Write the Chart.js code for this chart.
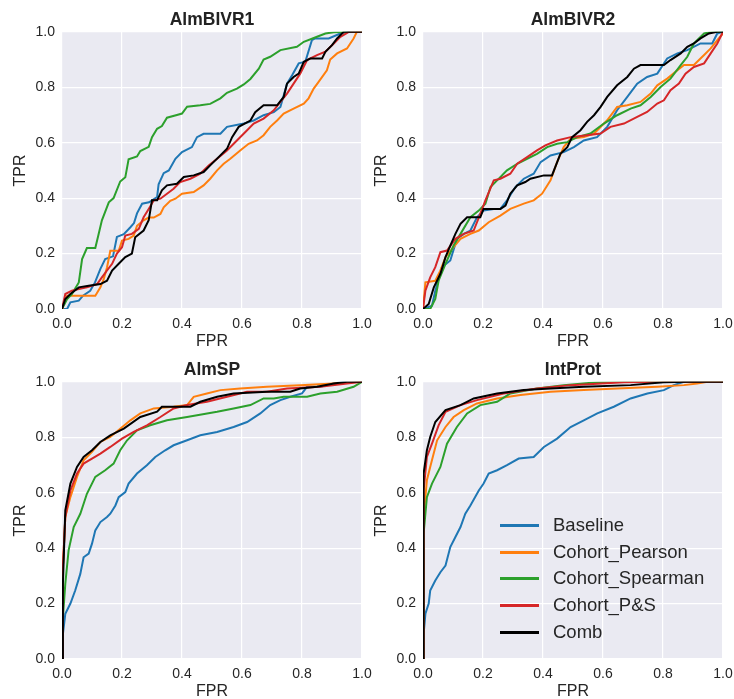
<!DOCTYPE html>
<html>
<head>
<meta charset="utf-8">
<script src="https://cdn.jsdelivr.net/npm/chart.js@4.4.1/dist/chart.umd.min.js"></script>
<style>
  html, body { margin: 0; padding: 0; background: #fff; }
  body { width: 734px; height: 699px; position: relative; overflow: hidden; }
  canvas { position: absolute; }
  #legend { position: absolute; left: 500px; top: 0; font-family: 'Liberation Sans', Arial, sans-serif; font-size: 18.5px; color: #262626; }
  #legend .row { position: absolute; left: 0; height: 26px; line-height: 26px; white-space: nowrap; }
  #legend .swatch { position: absolute; left: 0; top: 12px; width: 39px; height: 3px; }
  #legend .lbl { position: absolute; left: 53px; top: 0; }
</style>
</head>
<body>
<canvas id="c1" width="380" height="355" style="left:0;top:0"></canvas>
<canvas id="c2" width="380" height="355" style="left:361px;top:0"></canvas>
<canvas id="c3" width="380" height="355" style="left:0;top:350px"></canvas>
<canvas id="c4" width="380" height="355" style="left:361px;top:350px"></canvas>
<div id="legend"></div>
<script>
// series names + colours (tab10 + black)
const seriesNames = ['Baseline', 'Cohort_Pearson', 'Cohort_Spearman', 'Cohort_P&S', 'Comb'];
const seriesColors = ['#1f77b4', '#ff7f0e', '#2ca02c', '#d62728', '#000000'];
const panelTitles = ['AlmBIVR1', 'AlmBIVR2', 'AlmSP', 'IntProt'];
const tickValues = [0, 0.2, 0.4, 0.6, 0.8, 1.0];

// ROC points [FPR, TPR]
// AlmBIVR1
const bivr1Base = [[0,0],[0.017,0],[0.028,0.024],[0.056,0.03],[0.07,0.048],[0.094,0.066],[0.11,0.096],[0.128,0.145],[0.144,0.18],[0.17,0.19],[0.183,0.26],[0.206,0.27],[0.228,0.295],[0.24,0.31],[0.25,0.345],[0.267,0.38],[0.29,0.385],[0.317,0.404],[0.322,0.45],[0.339,0.49],[0.356,0.5],[0.378,0.542],[0.4,0.566],[0.433,0.584],[0.45,0.62],[0.472,0.632],[0.528,0.632],[0.55,0.657],[0.606,0.669],[0.639,0.68],[0.672,0.699],[0.706,0.71],[0.728,0.729],[0.75,0.813],[0.767,0.843],[0.789,0.886],[0.811,0.892],[0.833,0.97],[0.844,0.976],[0.889,0.976],[0.928,0.994],[0.95,1],[1,1]];
const bivr1Pear = [[0,0],[0.003,0.01],[0.017,0.048],[0.111,0.048],[0.128,0.078],[0.139,0.108],[0.15,0.15],[0.161,0.21],[0.189,0.21],[0.2,0.247],[0.222,0.253],[0.239,0.265],[0.25,0.3],[0.272,0.32],[0.289,0.33],[0.306,0.33],[0.328,0.343],[0.339,0.367],[0.361,0.39],[0.378,0.398],[0.4,0.416],[0.439,0.422],[0.472,0.446],[0.494,0.47],[0.517,0.5],[0.539,0.524],[0.561,0.542],[0.594,0.572],[0.622,0.596],[0.65,0.608],[0.672,0.627],[0.694,0.657],[0.717,0.68],[0.739,0.705],[0.772,0.723],[0.806,0.741],[0.822,0.76],[0.839,0.795],[0.856,0.82],[0.883,0.861],[0.894,0.9],[0.917,0.922],[0.95,0.94],[0.972,0.976],[0.983,1],[1,1]];
const bivr1Spear = [[0,0],[0.017,0.036],[0.033,0.054],[0.056,0.096],[0.067,0.18],[0.083,0.22],[0.111,0.22],[0.122,0.27],[0.133,0.32],[0.156,0.385],[0.172,0.4],[0.194,0.46],[0.211,0.475],[0.222,0.54],[0.25,0.55],[0.261,0.57],[0.289,0.585],[0.3,0.62],[0.317,0.65],[0.333,0.66],[0.35,0.69],[0.383,0.7],[0.4,0.705],[0.417,0.73],[0.461,0.735],[0.494,0.74],[0.528,0.76],[0.55,0.78],[0.583,0.795],[0.606,0.81],[0.628,0.83],[0.656,0.867],[0.672,0.9],[0.694,0.91],[0.728,0.934],[0.783,0.946],[0.806,0.964],[0.85,0.982],[0.878,0.994],[0.906,0.998],[0.95,1],[1,1]];
const bivr1PS = [[0,0],[0.011,0.054],[0.033,0.066],[0.056,0.072],[0.083,0.078],[0.117,0.09],[0.133,0.114],[0.15,0.139],[0.167,0.163],[0.183,0.2],[0.2,0.223],[0.211,0.265],[0.233,0.271],[0.256,0.289],[0.272,0.331],[0.289,0.361],[0.306,0.392],[0.328,0.398],[0.35,0.416],[0.372,0.434],[0.394,0.458],[0.428,0.47],[0.461,0.488],[0.489,0.518],[0.517,0.542],[0.55,0.572],[0.583,0.608],[0.617,0.645],[0.639,0.669],[0.672,0.687],[0.706,0.717],[0.728,0.747],[0.75,0.777],[0.772,0.813],[0.794,0.849],[0.817,0.898],[0.85,0.916],[0.878,0.928],[0.906,0.958],[0.928,0.982],[0.956,1],[1,1]];
const bivr1Comb = [[0,0],[0.011,0.036],[0.028,0.054],[0.056,0.078],[0.089,0.084],[0.128,0.09],[0.15,0.102],[0.167,0.139],[0.189,0.163],[0.211,0.187],[0.233,0.2],[0.244,0.259],[0.272,0.283],[0.289,0.32],[0.3,0.392],[0.317,0.392],[0.333,0.428],[0.35,0.446],[0.383,0.452],[0.406,0.476],[0.439,0.482],[0.472,0.494],[0.494,0.518],[0.522,0.548],[0.55,0.578],[0.567,0.62],[0.589,0.657],[0.628,0.68],[0.644,0.71],[0.672,0.735],[0.717,0.735],[0.739,0.765],[0.75,0.813],[0.772,0.837],[0.789,0.849],[0.806,0.892],[0.828,0.904],[0.867,0.904],[0.878,0.928],[0.9,0.952],[0.917,0.976],[0.939,1],[1,1]];

// AlmBIVR2
const bivr2Base = [[0,0],[0.03,0.012],[0.041,0.066],[0.063,0.151],[0.091,0.175],[0.113,0.253],[0.136,0.271],[0.158,0.283],[0.18,0.331],[0.202,0.355],[0.236,0.361],[0.258,0.361],[0.28,0.392],[0.308,0.44],[0.336,0.47],[0.369,0.488],[0.392,0.53],[0.425,0.554],[0.469,0.566],[0.503,0.584],[0.536,0.608],[0.58,0.62],[0.614,0.657],[0.647,0.717],[0.681,0.765],[0.714,0.813],[0.747,0.837],[0.781,0.849],[0.814,0.904],[0.848,0.922],[0.881,0.934],[0.925,0.958],[0.964,0.958],[0.981,0.994],[1,1]];
const bivr2Pear = [[0,0],[0.008,0.096],[0.041,0.102],[0.058,0.139],[0.075,0.187],[0.097,0.217],[0.125,0.253],[0.158,0.271],[0.186,0.283],[0.219,0.313],[0.258,0.337],[0.291,0.361],[0.336,0.38],[0.369,0.392],[0.397,0.416],[0.425,0.464],[0.447,0.53],[0.469,0.584],[0.492,0.614],[0.536,0.62],[0.57,0.633],[0.614,0.681],[0.647,0.729],[0.681,0.735],[0.725,0.747],[0.759,0.777],[0.781,0.807],[0.814,0.831],[0.848,0.861],[0.87,0.88],[0.903,0.88],[0.937,0.916],[0.959,0.94],[0.981,0.97],[1,0.994]];
const bivr2Spear = [[0,0],[0.024,0],[0.041,0.036],[0.052,0.102],[0.075,0.163],[0.102,0.229],[0.125,0.271],[0.158,0.331],[0.186,0.355],[0.208,0.38],[0.225,0.44],[0.247,0.464],[0.28,0.5],[0.314,0.524],[0.347,0.542],[0.38,0.56],[0.414,0.584],[0.447,0.596],[0.481,0.602],[0.514,0.62],[0.558,0.633],[0.603,0.669],[0.647,0.699],[0.692,0.723],[0.725,0.735],[0.759,0.765],[0.792,0.801],[0.825,0.831],[0.859,0.88],[0.881,0.91],[0.903,0.958],[0.937,0.994],[0.964,1],[1,1]];
const bivr2PS = [[0,0],[0.008,0.066],[0.024,0.114],[0.041,0.151],[0.058,0.205],[0.08,0.211],[0.108,0.253],[0.136,0.271],[0.169,0.283],[0.191,0.343],[0.208,0.392],[0.236,0.464],[0.258,0.47],[0.291,0.488],[0.314,0.524],[0.347,0.548],[0.38,0.572],[0.408,0.59],[0.447,0.608],[0.492,0.62],[0.547,0.627],[0.592,0.633],[0.625,0.657],[0.67,0.669],[0.714,0.693],[0.747,0.711],[0.781,0.741],[0.803,0.753],[0.825,0.789],[0.853,0.813],[0.875,0.849],[0.903,0.873],[0.937,0.886],[0.959,0.922],[0.981,0.958],[1,1]];
const bivr2Comb = [[0,0],[0.019,0.018],[0.036,0.078],[0.058,0.127],[0.075,0.187],[0.091,0.229],[0.108,0.271],[0.125,0.307],[0.147,0.331],[0.191,0.331],[0.202,0.361],[0.258,0.361],[0.275,0.373],[0.291,0.416],[0.314,0.446],[0.341,0.458],[0.358,0.47],[0.403,0.482],[0.43,0.482],[0.458,0.56],[0.481,0.584],[0.497,0.62],[0.525,0.645],[0.547,0.675],[0.57,0.699],[0.592,0.729],[0.614,0.765],[0.647,0.807],[0.681,0.837],[0.703,0.867],[0.725,0.88],[0.803,0.88],[0.825,0.898],[0.859,0.922],[0.881,0.946],[0.903,0.958],[0.925,0.976],[0.953,0.994],[0.981,1],[1,1]];

// AlmSP
const spBase = [[0,0],[0.003,0.09],[0.011,0.163],[0.028,0.2],[0.044,0.247],[0.061,0.307],[0.072,0.367],[0.089,0.38],[0.1,0.416],[0.111,0.464],[0.128,0.494],[0.15,0.512],[0.161,0.524],[0.178,0.554],[0.189,0.584],[0.211,0.602],[0.222,0.633],[0.25,0.669],[0.283,0.699],[0.311,0.729],[0.344,0.753],[0.372,0.771],[0.417,0.789],[0.461,0.807],[0.517,0.819],[0.572,0.837],[0.617,0.855],[0.661,0.886],[0.694,0.916],[0.728,0.934],[0.761,0.946],[0.8,0.958],[0.817,0.982],[0.861,0.982],[0.906,0.994],[0.939,1],[1,1]];
const spPear = [[0,0],[0.003,0.331],[0.011,0.512],[0.028,0.584],[0.05,0.657],[0.072,0.717],[0.1,0.747],[0.128,0.783],[0.161,0.801],[0.194,0.831],[0.228,0.861],[0.261,0.886],[0.306,0.904],[0.372,0.91],[0.417,0.916],[0.439,0.946],[0.483,0.958],[0.528,0.97],[0.594,0.976],[0.683,0.982],[0.794,0.988],[0.906,0.994],[1,1]];
const spSpear = [[0,0],[0.003,0.15],[0.011,0.271],[0.022,0.392],[0.039,0.476],[0.061,0.524],[0.083,0.596],[0.111,0.657],[0.144,0.681],[0.172,0.705],[0.194,0.753],[0.217,0.789],[0.25,0.825],[0.294,0.843],[0.35,0.861],[0.417,0.873],[0.517,0.892],[0.572,0.904],[0.628,0.916],[0.672,0.94],[0.706,0.94],[0.739,0.946],[0.817,0.946],[0.861,0.958],[0.917,0.964],[0.972,0.982],[1,1]];
const spPS = [[0,0],[0.003,0.331],[0.011,0.512],[0.028,0.608],[0.05,0.669],[0.072,0.705],[0.1,0.723],[0.128,0.741],[0.161,0.765],[0.2,0.795],[0.239,0.819],[0.283,0.843],[0.328,0.873],[0.372,0.904],[0.417,0.916],[0.483,0.928],[0.55,0.946],[0.617,0.964],[0.683,0.964],[0.75,0.976],[0.861,0.982],[0.95,0.994],[1,1]];
const spComb = [[0,0],[0.003,0.271],[0.011,0.536],[0.028,0.633],[0.05,0.693],[0.072,0.729],[0.1,0.753],[0.128,0.783],[0.161,0.807],[0.206,0.831],[0.261,0.873],[0.317,0.892],[0.333,0.91],[0.428,0.91],[0.461,0.928],[0.517,0.946],[0.572,0.958],[0.683,0.964],[0.761,0.964],[0.794,0.976],[0.85,0.982],[0.906,0.994],[0.95,1],[1,1]];

// IntProt
const ipBase = [[0,0],[0.002,0.09],[0.008,0.163],[0.019,0.2],[0.024,0.247],[0.041,0.283],[0.058,0.313],[0.075,0.337],[0.091,0.404],[0.108,0.44],[0.125,0.476],[0.141,0.524],[0.158,0.554],[0.186,0.608],[0.202,0.633],[0.219,0.669],[0.247,0.681],[0.28,0.699],[0.319,0.723],[0.369,0.729],[0.403,0.765],[0.447,0.795],[0.492,0.837],[0.536,0.861],[0.581,0.886],[0.636,0.91],[0.692,0.94],[0.748,0.958],[0.803,0.97],[0.836,0.988],[0.87,1],[1,1]];
const ipPear = [[0,0],[0.002,0.512],[0.013,0.645],[0.024,0.693],[0.047,0.789],[0.075,0.837],[0.102,0.873],[0.136,0.898],[0.18,0.922],[0.247,0.94],[0.325,0.952],[0.425,0.964],[0.536,0.97],[0.647,0.976],[0.781,0.982],[0.87,0.988],[0.914,0.994],[0.948,1],[1,1]];
const ipSpear = [[0,0],[0.002,0.452],[0.013,0.584],[0.03,0.633],[0.058,0.693],[0.08,0.777],[0.113,0.837],[0.147,0.886],[0.191,0.916],[0.247,0.928],[0.291,0.958],[0.38,0.976],[0.469,0.988],[0.581,0.998],[0.647,1],[1,1]];
const ipPS = [[0,0],[0.002,0.608],[0.013,0.729],[0.03,0.777],[0.052,0.843],[0.075,0.892],[0.125,0.916],[0.18,0.934],[0.269,0.958],[0.38,0.976],[0.492,0.988],[0.67,0.998],[0.803,1],[1,1]];
const ipComb = [[0,0],[0.002,0.669],[0.013,0.753],[0.024,0.801],[0.041,0.855],[0.075,0.898],[0.125,0.916],[0.169,0.94],[0.247,0.958],[0.336,0.97],[0.425,0.976],[0.536,0.982],[0.692,0.988],[0.803,0.998],[0.881,1],[1,1]];

const panels = [
  [bivr1Base, bivr1Pear, bivr1Spear, bivr1PS, bivr1Comb],
  [bivr2Base, bivr2Pear, bivr2Spear, bivr2PS, bivr2Comb],
  [spBase, spPear, spSpear, spPS, spComb],
  [ipBase, ipPear, ipSpear, ipPS, ipComb]
];

const FONT = "'Liberation Sans', Arial, sans-serif";
const TEXT = '#262626';

// grey seaborn-style plot background
const bgPlugin = {
  id: 'bg',
  beforeDraw(chart) {
    const a = chart.chartArea, ctx = chart.ctx;
    ctx.save();
    ctx.fillStyle = '#eaeaf2';
    ctx.fillRect(a.left, a.top, a.right - a.left, a.bottom - a.top);
    ctx.restore();
  }
};

function axis(label, isX) {
  return {
    type: 'linear',
    min: 0,
    max: 1,
    afterBuildTicks: s => { s.ticks = tickValues.map(v => ({ value: v })); },
    afterFit: s => { if (isX) s.height = 46; else s.width = 62; },
    ticks: {
      padding: isX ? 6.5 : 7,
      maxRotation: 0,
      autoSkip: false,
      color: TEXT,
      font: { family: FONT, size: 14 },
      callback: v => v.toFixed(1)
    },
    grid: { color: '#ffffff', lineWidth: 1.2, drawTicks: false },
    border: { display: false },
    title: {
      display: true,
      text: label,
      color: TEXT,
      font: { family: FONT, size: 16 },
      // bottom axis title is offset by padding.bottom, left axis by padding.top
      padding: isX ? { top: 0, bottom: 3.5 } : { top: 11.4, bottom: 0 }
    }
  };
}

const charts = panels.map((series, p) => new Chart(document.getElementById('c' + (p + 1)), {
  type: 'scatter',
  data: {
    datasets: series.map((pts, i) => ({
      label: seriesNames[i],
      data: pts.map(([x, y]) => ({ x, y })),
      showLine: true,
      borderColor: seriesColors[i],
      backgroundColor: seriesColors[i],
      borderWidth: 2,
      pointRadius: 0,
      tension: 0,
      order: seriesNames.length - i   // Comb on top
    }))
  },
  options: {
    responsive: false,
    animation: false,
    layout: { padding: { left: 0, right: 18, top: 0, bottom: 0 } },
    plugins: {
      legend: { display: false },
      tooltip: { enabled: false },
      title: {
        display: true,
        text: panelTitles[p],
        color: '#222',
        fullSize: false,
        font: { family: FONT, size: 17.5, weight: 'bold' },
        padding: { top: 9.5, bottom: 1.3 }
      }
    },
    scales: { x: axis('FPR', true), y: axis('TPR', false) }
  },
  plugins: [bgPlugin]
}));

// legend inside the IntProt panel, built from that chart's datasets
const legendEl = document.getElementById('legend');
charts[3].data.datasets.forEach((ds, i) => {
  const row = document.createElement('div');
  row.className = 'row';
  row.style.top = Math.round(512 + i * 26.67) + 'px';
  const sw = document.createElement('span');
  sw.className = 'swatch';
  sw.style.background = ds.borderColor;
  const lbl = document.createElement('span');
  lbl.className = 'lbl';
  lbl.textContent = ds.label;
  row.appendChild(sw);
  row.appendChild(lbl);
  legendEl.appendChild(row);
});
</script>
</body>
</html>
